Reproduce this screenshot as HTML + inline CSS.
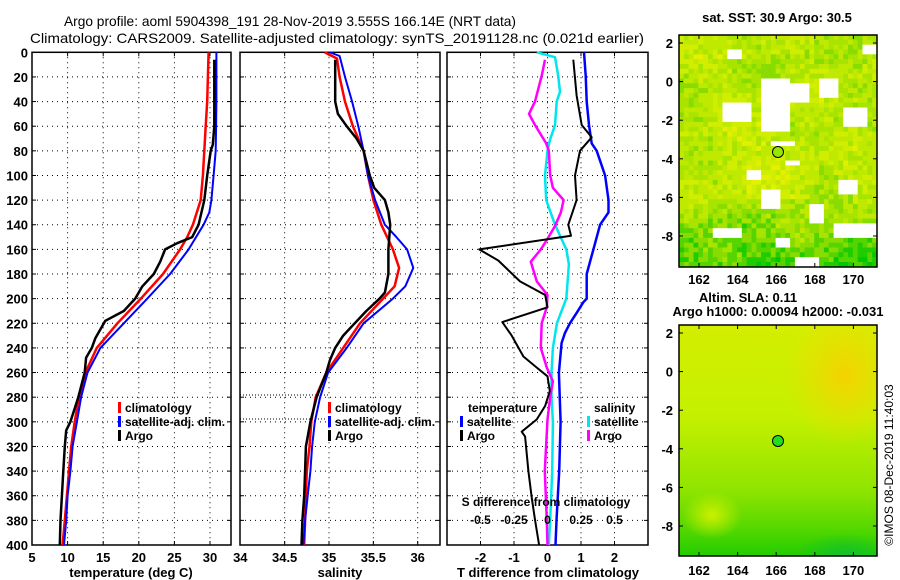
<!DOCTYPE html>
<html><head><meta charset="utf-8"><style>
html,body{margin:0;padding:0;background:#fff;}
svg{display:block;font-family:"Liberation Sans",sans-serif;font-weight:bold;}
</style></head><body>
<svg id="c" width="900" height="580" viewBox="0 0 900 580" xmlns="http://www.w3.org/2000/svg">
<defs>
<clipPath id="clip1"><rect x="679" y="35" width="198" height="232"/></clipPath>
<clipPath id="clip2"><rect x="679" y="325" width="198" height="231"/></clipPath>
</defs>
<text x="290" y="26" text-anchor="middle" font-size="14" font-weight="normal" textLength="452" lengthAdjust="spacingAndGlyphs">Argo profile: aoml 5904398_191 28-Nov-2019 3.555S 166.14E (NRT data)</text>
<text x="337" y="43" text-anchor="middle" font-size="14" font-weight="normal" textLength="614" lengthAdjust="spacingAndGlyphs">Climatology: CARS2009. Satellite-adjusted climatology: synTS_20191128.nc (0.021d earlier)</text>
<g id="g1"></g>
<g id="g2"></g>
<g id="g3"></g>
<g id="m1"></g>
<g id="m2"></g>
<text transform="translate(893,465) rotate(-90)" text-anchor="middle" font-size="12" font-weight="normal">©IMOS 08-Dec-2019 11:40:03</text>
</svg>
<script>
// ---- data ----
const depthTicks = [0,20,40,60,80,100,120,140,160,180,200,220,240,260,280,300,320,340,360,380,400];
const tempTicks = [5,10,15,20,25,30];
const salTicks = [34,34.5,35,35.5,36];
const tdiffTicks = [-2,-1,0,1,2];
const sdiffTicks = [-0.5,-0.25,0,0.25,0.5];
const sdiffTickLabels = ["-0.5","-0.25","0","0.25","0.5"];

const climTdepth = [0,20,40,60,80,100,120,140,150,160,180,200,220,240,260,280,300,320,340,360,380,400];
const climTval   = [29.8,29.7,29.6,29.4,29.2,29.0,28.7,27.6,26.8,25.8,23.4,20.3,17.0,14.1,12.5,11.6,11.0,10.5,10.2,9.9,9.6,9.3];
const satTdepth  = [0,20,40,60,80,100,120,130,140,160,180,200,220,240,260,280,300,320,340,360,380,400];
const satTval    = [30.9,30.9,30.9,30.85,30.8,30.5,30.2,29.9,29.1,27.0,24.4,21.2,17.9,14.6,12.8,11.9,11.3,10.7,10.4,10.0,9.8,9.5];
const argoTdepth = [6,40,60,75,80,100,120,140,150,155,160,170,180,190,200,210,218,225,232,240,248,260,280,300,307,320,340,360,380,400];
const argoTval   = [30.6,30.6,30.6,30.4,30.1,29.6,29.2,28.4,27.5,25.4,23.7,23.0,22.1,20.5,19.5,17.9,15.3,14.6,13.9,13.4,12.6,12.4,11.5,10.4,9.8,9.6,9.4,9.2,9.0,8.9];

const climSdepth = [0,5,20,40,60,80,100,120,140,160,175,190,200,220,240,260,280,300,320,340,360,380,400];
const climSval   = [34.95,35.09,35.12,35.18,35.27,35.39,35.44,35.5,35.59,35.72,35.79,35.74,35.61,35.35,35.16,34.97,34.85,34.8,34.78,34.75,34.74,34.73,34.72];
const satSdepth  = [0,3,20,40,60,80,100,120,140,150,160,175,190,200,220,240,260,280,300,320,340,360,380,400];
const satSval    = [35.01,35.12,35.18,35.26,35.33,35.39,35.44,35.52,35.63,35.76,35.88,35.95,35.86,35.72,35.39,35.2,34.99,34.9,34.84,34.81,34.79,34.76,34.73,34.71];
const argoSdepth = [6,40,50,60,70,80,100,110,120,130,140,160,180,195,200,210,220,230,240,250,260,280,300,320,340,360,380,400];
const argoSval   = [35.07,35.07,35.1,35.2,35.31,35.39,35.46,35.51,35.63,35.67,35.69,35.67,35.67,35.63,35.57,35.42,35.29,35.16,35.07,35.01,34.97,34.86,34.79,34.74,34.73,34.72,34.7,34.69];

const satTdiffDepth = [0,19,40,59,74,80,100,120,130,140,160,180,200,203,212,220,228,236,260,300,340,380,400];
const satTdiffVal   = [1.09,1.14,1.17,1.24,1.32,1.47,1.72,1.82,1.82,1.57,1.37,1.17,1.17,1.07,0.86,0.67,0.52,0.42,0.34,0.39,0.35,0.27,0.24];
const argoTdiffDepth = [6,35,59,69,80,100,120,140,149,160,169,186,197,207,219,230,247,256,263,275,287,298,308,312,340,362,380,400];
const argoTdiffVal   = [0.77,0.87,1.02,1.32,0.97,0.82,0.87,0.62,0.70,-2.04,-1.47,-0.82,-0.07,0.0,-1.35,-1.07,-0.72,-0.32,0.0,0.07,-0.07,-0.32,-0.77,-0.67,-0.57,-0.47,-0.37,-0.25];
const satSdiffDepth = [0,4,19,32,40,59,71,80,100,120,140,160,172,200,220,240,260,280,300,340,380,400];
const satSdiffVal   = [-0.08,0.056,0.08,0.093,0.069,0.056,0.019,0.0,-0.019,-0.01,0.056,0.14,0.16,0.14,0.07,0.04,0.03,0.03,0.04,0.035,0.02,0.01];
const argoSdiffDepth = [6,19,40,50,59,74,80,100,110,120,130,141,152,160,170,186,197,207,220,240,256,267,280,298,340,380,400];
const argoSdiffVal   = [-0.019,-0.043,-0.093,-0.138,-0.093,-0.01,0.01,0.02,0.04,0.12,0.1,0.056,-0.003,-0.05,-0.125,-0.08,0.0,-0.005,-0.043,-0.05,-0.005,0.04,0.02,0.0,-0.02,-0.005,0.0];

const lonTicks = [162,164,166,168,170];
const latTicks = [2,0,-2,-4,-6,-8];

// ---- helpers ----
const NS = "http://www.w3.org/2000/svg";
function mk(parent, tag, attrs, text){
  const e = document.createElementNS(NS, tag);
  for (const k in attrs) e.setAttribute(k, attrs[k]);
  if (text !== undefined) e.textContent = text;
  parent.appendChild(e);
  return e;
}
const Y0 = 52.3, Y1 = 545;
const yD = d => Y0 + d * (Y1 - Y0) / 400;
const xT = t => 32 + (t - 5) * 7.12;
const xS = s => 240.3 + (s - 34) * 88.7;
const xTd = t => 547.5 + t * 33.5;
const xSd = s => 547.5 + s * 134;

function panel(g, x0, x1, vticks, xf, labels){
  for (const d of depthTicks){
    if (d===0||d===400) continue;
    const l = mk(g,'line',{x1:x0,x2:x1,y1:yD(d),y2:yD(d),stroke:'#000','stroke-width':1,'stroke-dasharray':'1 4'});
     
    mk(g,'line',{x1:x0,x2:x0+4,y1:yD(d),y2:yD(d),stroke:'#000'});
    mk(g,'line',{x1:x1-4,x2:x1,y1:yD(d),y2:yD(d),stroke:'#000'});
  }
  vticks.forEach((v,i)=>{
    const x = xf(v);
    if (x>x0+2 && x<x1-2){
      const l = mk(g,'line',{x1:x,x2:x,y1:Y0,y2:Y1,stroke:'#000','stroke-width':1,'stroke-dasharray':'1 4'});
       
      mk(g,'line',{x1:x,x2:x,y1:Y0,y2:Y0+4,stroke:'#000'});
      mk(g,'line',{x1:x,x2:x,y1:Y1-4,y2:Y1,stroke:'#000'});
    }
    if (labels){
      const t = mk(g,'text',{x:x,y:562,'text-anchor':'middle','font-size':13},labels[i]);
       
    }
  });
  const r = mk(g,'rect',{x:x0,y:Y0,width:x1-x0,height:Y1-Y0,fill:'none',stroke:'#000','stroke-width':1.5});
   
}
function series(g, depths, vals, xf, color, w, name){
  const pts = depths.map((d,i)=>xf(vals[i]).toFixed(1)+','+yD(d).toFixed(1)).join(' ');
  const p = mk(g,'polyline',{points:pts,fill:'none',stroke:color,'stroke-width':w,'stroke-linejoin':'round'});
  
  
}
function legendEntry(g, x, y, color, label){
  const e = mk(g,'g',{});
  
  
  mk(e,'rect',{x:x,y:y-10,width:3,height:11,fill:color});
  mk(e,'text',{x:x+7,y:y,'font-size':12},label);
}

// ---- temperature panel ----
const g1 = document.getElementById('g1');
panel(g1, 32, 231, tempTicks, xT, tempTicks.map(String));
depthTicks.forEach(d=>{
  const t = mk(g1,'text',{x:28,y:yD(d)+5,'text-anchor':'end','font-size':13},String(d));
   
});
series(g1, climTdepth, climTval, xT, '#f00', 2.5, 'climatology-temperature-line');
series(g1, satTdepth, satTval, xT, '#00f', 2, 'satellite-temperature-line');
series(g1, argoTdepth, argoTval, xT, '#000', 2.5, 'argo-temperature-line');
legendEntry(g1, 118, 412, '#f00', 'climatology');
legendEntry(g1, 118, 426, '#00f', 'satellite-adj. clim.');
legendEntry(g1, 118, 440, '#000', 'Argo');
mk(g1,'text',{x:131,y:577,'text-anchor':'middle','font-size':13},'temperature (deg C)');

// ---- salinity panel ----
const g2 = document.getElementById('g2');
panel(g2, 240, 440, salTicks, xS, salTicks.map(String));
mk(g2,'line',{x1:240,x2:330,y1:395,y2:395,stroke:'#000','stroke-dasharray':'1 2'});
mk(g2,'line',{x1:240,x2:326,y1:419,y2:419,stroke:'#000','stroke-dasharray':'1 2'});
series(g2, climSdepth, climSval, xS, '#f00', 2.5, 'climatology-salinity-line');
series(g2, satSdepth, satSval, xS, '#00f', 2, 'satellite-salinity-line');
series(g2, argoSdepth, argoSval, xS, '#000', 2.5, 'argo-salinity-line');
legendEntry(g2, 328, 412, '#f00', 'climatology');
legendEntry(g2, 328, 426, '#00f', 'satellite-adj. clim.');
legendEntry(g2, 328, 440, '#000', 'Argo');
mk(g2,'text',{x:340,y:577,'text-anchor':'middle','font-size':13},'salinity');

// ---- difference panel ----
const g3 = document.getElementById('g3');
panel(g3, 447, 648, tdiffTicks, xTd, tdiffTicks.map(String));
series(g3, satSdiffDepth, satSdiffVal, xSd, '#00e5ee', 2.5, 'satellite-salinity-diff-line');
series(g3, argoSdiffDepth, argoSdiffVal, xSd, '#f0f', 2.5, 'argo-salinity-diff-line');
series(g3, satTdiffDepth, satTdiffVal, xTd, '#00f', 2.5, 'satellite-temperature-diff-line');
series(g3, argoTdiffDepth, argoTdiffVal, xTd, '#000', 2, 'argo-temperature-diff-line');
mk(g3,'text',{x:468,y:412,'font-size':12},'temperature');
mk(g3,'text',{x:594,y:412,'font-size':12},'salinity');
legendEntry(g3, 460, 426, '#00f', 'satellite');
legendEntry(g3, 460, 440, '#000', 'Argo');
legendEntry(g3, 587, 426, '#00e5ee', 'satellite');
legendEntry(g3, 587, 440, '#f0f', 'Argo');
mk(g3,'text',{x:546,y:506,'text-anchor':'middle','font-size':12},'S difference from climatology');
sdiffTicks.forEach((v,i)=>{
  const t = mk(g3,'text',{x:xSd(v),y:524,'text-anchor':'middle','font-size':12},sdiffTickLabels[i]);
   
});
mk(g3,'text',{x:548,y:577,'text-anchor':'middle','font-size':13},'T difference from climatology');

// ---- maps ----
function mapFrame(g, top, bottom, labelY){
  const L=679, R=877;
  const xL = lon => 699 + (lon-162)*19.3;
  const yL = lat => top + 8 + (2-lat)*19.3;
  latTicks.forEach(v=>{
    const y = yL(v);
    mk(g,'line',{x1:L,x2:L+4,y1:y,y2:y,stroke:'#000'});
    mk(g,'line',{x1:R-4,x2:R,y1:y,y2:y,stroke:'#000'});
    const t = mk(g,'text',{x:673,y:y+5,'text-anchor':'end','font-size':13},String(v));
     
  });
  lonTicks.forEach(v=>{
    const x = xL(v);
    mk(g,'line',{x1:x,x2:x,y1:top,y2:top+4,stroke:'#000'});
    mk(g,'line',{x1:x,x2:x,y1:bottom-4,y2:bottom,stroke:'#000'});
    const t = mk(g,'text',{x:x,y:labelY,'text-anchor':'middle','font-size':13},String(v));
     
  });
  const r = mk(g,'rect',{x:L,y:top,width:R-L,height:bottom-top,fill:'none',stroke:'#000','stroke-width':1.5});
   
}
// top map: SST tile texture
const m1 = document.getElementById('m1');
mk(m1,'text',{x:777,y:22,'text-anchor':'middle','font-size':13},'sat. SST: 30.9 Argo: 30.5');
const tiles = mk(m1,'g',{'clip-path':'url(#clip1)'});
mk(tiles,'rect',{x:679,y:35,width:198,height:232,fill:'#b4e600'});
const pal = ['#e4f000','#d2ee00','#bfea00','#a8e400','#88dc00','#55d400','#20cc00','#00c800'];
const gaps = [[165.4,166.9,0.2,-2.7],[163.2,164.9,-1.1,-2.2],[166.9,167.7,-0.1,-1.0],[168.3,169.3,0.2,-0.8],
  [169.6,170.8,-1.4,-2.4],[164.5,165.3,-4.6,-5.1],[166.6,167.2,-4.0,-4.3],[165.4,166.4,-5.7,-6.7],
  [167.7,168.5,-6.4,-7.3],[169.3,170.3,-5.2,-5.8],[162.9,164.2,-7.6,-8.2],[166.0,166.8,-8.1,-8.6],
  [169.0,171.3,-7.4,-8.2],[167.0,168.2,-9.0,-9.6],[165.8,167.0,-3.0,-3.3],[170.6,171.3,1.8,1.4],[163.6,164.2,1.6,1.2]];
const cs = 4.83;
for (let j=0;j<48;j++){
  for (let i=0;i<41;i++){
    const lon = 161.05 + (i+0.5)*0.25, lat = 2.4 - (j+0.5)*0.25;
    let h = Math.sin(i*12.9898 + j*78.233)*43758.5453; h = h - Math.floor(h);
    let f = 2.3 + 0.45*Math.sin(lon*1.3+lat*0.7) + 0.4*Math.cos(lat*1.7 - lon*0.5)
            + (lat < -6 ? (-6-lat)*0.9 : 0) + (lat > -6 && lat < -2 && lon > 163 && lon < 168 ? -0.7 : 0)
            + (h-0.5)*2.6;
    let idx = Math.max(0, Math.min(7, Math.round(f)));
    let col = pal[idx];
    for (const gp of gaps){ if (lon>gp[0] && lon<gp[1] && lat<gp[2] && lat>gp[3]) col = '#fff'; }
    mk(tiles,'rect',{x:(679+i*cs).toFixed(1),y:(35+j*cs).toFixed(1),width:cs+0.3,height:cs+0.3,fill:col});
  }
}
mapFrame(m1, 35, 267, 284);
mk(m1,'circle',{cx:778,cy:152,r:5.5,fill:'#99e600',stroke:'#000','stroke-width':1});

// bottom map: smooth SLA field
const m2 = document.getElementById('m2');
mk(m2,'text',{x:748,y:302,'text-anchor':'middle','font-size':13},'Altim. SLA: 0.11');
mk(m2,'text',{x:778,y:316,'text-anchor':'middle','font-size':13},'Argo h1000: 0.00094 h2000: -0.031');
const defs = mk(m2,'defs',{});
const lg = mk(defs,'linearGradient',{id:'slag',x1:0,y1:0,x2:0,y2:1});
mk(lg,'stop',{offset:'0','stop-color':'#d4ee00'});
mk(lg,'stop',{offset:'0.4','stop-color':'#c4f000'});
mk(lg,'stop',{offset:'0.72','stop-color':'#8ee400'});
mk(lg,'stop',{offset:'0.88','stop-color':'#55d800'});
mk(lg,'stop',{offset:'1','stop-color':'#22cc00'});
const rg = mk(defs,'radialGradient',{id:'slao'});
mk(rg,'stop',{offset:'0','stop-color':'#f4d200','stop-opacity':1});
mk(rg,'stop',{offset:'1','stop-color':'#f0dc00','stop-opacity':0});
const rg2 = mk(defs,'radialGradient',{id:'slay'});
mk(rg2,'stop',{offset:'0','stop-color':'#ccf000','stop-opacity':1});
mk(rg2,'stop',{offset:'1','stop-color':'#ccf000','stop-opacity':0});
const rg3 = mk(defs,'radialGradient',{id:'slagr'});
mk(rg3,'stop',{offset:'0','stop-color':'#10c030','stop-opacity':0.9});
mk(rg3,'stop',{offset:'1','stop-color':'#10c030','stop-opacity':0});
const sla = mk(m2,'g',{'clip-path':'url(#clip2)'});
mk(sla,'rect',{x:679,y:325,width:198,height:231,fill:'url(#slag)'});
mk(sla,'ellipse',{cx:845,cy:375,rx:60,ry:70,fill:'url(#slao)'});
mk(sla,'ellipse',{cx:712,cy:515,rx:30,ry:24,fill:'url(#slay)'});
mk(sla,'ellipse',{cx:845,cy:555,rx:50,ry:22,fill:'url(#slagr)'});
mapFrame(m2, 325, 556, 575);
mk(m2,'circle',{cx:778,cy:441,r:5.5,fill:'#22dd22',stroke:'#000','stroke-width':1});
</script>
</body></html>
